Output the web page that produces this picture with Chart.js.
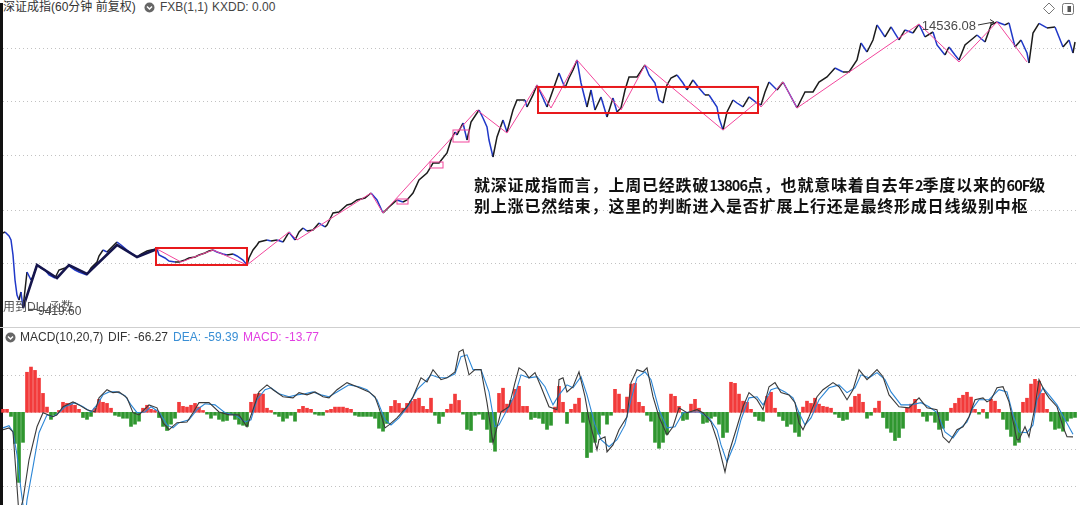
<!DOCTYPE html>
<html>
<head>
<meta charset="utf-8">
<title>深证成指 60分钟</title>
<script src="https://cdn.jsdelivr.net/npm/chart.js@4.4.0/dist/chart.umd.min.js"></script>
<style>
  body { margin: 0; background: #fff; }
  #wrap { position: relative; width: 1080px; height: 505px; overflow: hidden; background: #fff;
          font-family: "Liberation Sans", "Noto Sans CJK SC", sans-serif; font-size: 12px; color: #333; }
  .abs { position: absolute; white-space: nowrap; line-height: 15px; }
  canvas { position: absolute; left: 0; }
  #note { position: absolute; left: 474px; top: 174px; font-family: "Noto Sans CJK SC", sans-serif;
          font-weight: bold; font-size: 16px; line-height: 20px; letter-spacing: 0.8px; color: #111; white-space: nowrap; }
  #note .num { font-size: 14.5px; letter-spacing: -1px; }
</style>
</head>
<body>
<div id="wrap">
  <div class="abs" style="left:0;top:3px;width:3px;height:502px;background:#111;"></div>

  <!-- top header -->
  <div class="abs" style="left:3px;top:0;">深证成指(60分钟 前复权)</div>
  <svg class="abs" style="left:144px;top:2px;" width="11" height="11" viewBox="0 0 11 11">
    <circle cx="5.5" cy="5.5" r="5" fill="#666"/>
    <polyline points="3,4.5 5.5,7 8,4.5" fill="none" stroke="#fff" stroke-width="1.5"/>
  </svg>
  <div class="abs" style="left:160px;top:0;color:#444;">FXB(1,1)</div>
  <div class="abs" style="left:212px;top:0;color:#444;">KXDD: 0.00</div>
  <svg class="abs" style="left:1042px;top:2px;" width="34" height="14" viewBox="0 0 34 14">
    <polygon points="7,1 12.5,6.5 7,12 1.5,6.5" fill="none" stroke="#777" stroke-width="1"/>
    <rect x="20.5" y="1.5" width="11" height="11" rx="2" fill="none" stroke="#777" stroke-width="1"/>
    <rect x="25.5" y="4" width="3.5" height="6" fill="#555"/>
  </svg>

  <canvas id="priceCanvas" width="1080" height="313" style="top:14px;"></canvas>
  <div class="abs" style="left:3px;top:300px;color:#555;">用到DLL函数</div>

  <div id="note">就深证成指而言，上周已经跌破<span class="num">13806</span>点，也就意味着自去年<span class="num">2</span>季度以来的<span class="num">60F</span>级<br>别上涨已然结束，这里的判断进入是否扩展上行还是最终形成日线级别中枢</div>

  <div class="abs" style="left:0;top:327px;width:1080px;height:1px;background:#cfcfcf;"></div>

  <!-- MACD header -->
  <svg class="abs" style="left:5px;top:332px;" width="11" height="11" viewBox="0 0 11 11">
    <circle cx="5.5" cy="5.5" r="5" fill="#666"/>
    <polyline points="3,4.5 5.5,7 8,4.5" fill="none" stroke="#fff" stroke-width="1.5"/>
  </svg>
  <canvas id="macdCanvas" width="1080" height="165" style="top:340px;"></canvas>
  <div class="abs" style="left:20px;top:330px;">MACD(10,20,7)</div>
  <div class="abs" style="left:108px;top:330px;">DIF: -66.27</div>
  <div class="abs" style="left:173px;top:330px;color:#3a8fd5;">DEA: -59.39</div>
  <div class="abs" style="left:243px;top:330px;color:#e23fe2;">MACD: -13.77</div>
</div>

<script>
// ---- price panel data (bar number, index value) ----
let priceBar = [0,1,3,4,5,6,7,8,9,10,11,12,14,15,17,19,21,23,26,28,31,33,36,38,42,44,47,48,50,52,
  55,57,59,62,64,67,69,72,74,77,78,81,83,86,88,91,93,96,98,101,103,105,107,110,112,115,117,120,122,123,
  125,127,128,132,134,137,140,143,146,148,150,152,155,158,161,162,165,168,172,174,177,181,184,187,190,191,193,197,200,202,
  205,208,212,215,218,222,224,226,227,230,232,234,237,238,240,242,243,245,247,250,252,255,257,261,262,265,267,270,272,275,
  278,281,283,285,287,289,292,294,296,299,302,305,307,309,311,313,317,321,323,326,328,330,332,334,337,340,342,345,348,351,
  353,357,358,360,362,365,367,370,373,377,379,381,383,387,390,393,397,401,405,408,412,416,420,423,427,429,432,435,437,441,
  444,448,451,455,458,461,465,467,471,473,476,478,481,484,487,491,494,497,501,503,506,509,512,513,515,518,522,526,530,533,
  535,536];
let priceClose = [10759,10777,10706,10634,10366,9918,9650,9560,9703,9419.6,9739,10061,9918,9972,10187,10133,10097,10008,9954,10097,
  10133,10169,10097,10061,10008,10133,10240,10348,10455,10419,10527,10598,10545,10455,10401,10330,10383,10437,10455,10473,
  10366,10312,10258,10240,10240,10276,10312,10330,10366,10401,10437,10455,10419,10383,10366,10383,10348,10276,10187,10312,
  10455,10545,10598,10634,10616,10634,10598,10777,10634,10777,10849,10795,10813,10938,10867,10903,11117,11135,11261,11278,
  11350,11386,11475,11350,11117,11153,11225,11350,11314,11350,11475,11708,11833,12012,12012,12191,12424,12567,12514,12728,
  12424,12746,12907,12961,12818,12657,12424,12120,12478,12782,12567,12961,13140,13140,13015,13230,13409,13176,13015,13319,
  13623,13355,13534,13677,13856,13444,13015,13319,12961,13194,12836,13176,12925,12997,13319,13552,13552,13767,13588,13444,
  13140,13086,13409,13534,13588,13444,13319,13498,13355,13230,13230,13015,12818,12603,12925,13140,13086,13015,13194,13086,
  13051,13283,13462,13319,13462,13265,12997,13283,13283,13462,13552,13713,13641,13641,13856,14160,13999,14214,14483,14268,
  14447,14214,14393,14339,14498,14268,14357,14125,13946,14089,13946,13856,14125,14214,14304,14178,14483,14536.08,14483,14520,
  14089,14214,13981,13802,14339,14510,14429,14447,14089,14214,13981,14178];

// thick pen line on the left
let penBar = [10,17,27,33,42,57,67,77];
let penVal = [9419.6,10187,9954,10187,10025,10545,10330,10473];

// pink zigzag line
let zigBar = [77,89,105,122,143,147,184,190,237,252,267,274,287,309,321,360,377,379,390,397,458,478,497,512];
let zigVal = [10473,10240,10455,10187,10777,10634,11475,11117,12961,12549,13409,12997,13856,12961,13767,12603,13104,13015,13462,12997,14498,13820,14536.08,13820];

// boxes: [first bar, last bar, top value, bottom value]
let redBoxes = [[76.5,122,10491,10187],[267.5,377.5,13373,12907]];
let pinkBoxes = [[197,202.5,11368,11278],[213.5,220,12030,11923],[225,233,12603,12388]];

let priceGrid = [14071,13122,12156,11171,10222];

// ---- MACD panel data ----
let difBar = [0,3,5,7,8,10,13,17,20,25,27,30,35,38,42,46,48,52,55,58,62,65,68,73,77,80,83,87,92,95,
  98,103,108,113,118,122,125,128,132,135,140,145,148,152,156,160,163,167,172,177,183,186,188,191,193,197,202,205,209,212,
  215,219,222,226,228,230,233,236,239,242,245,249,253,256,258,261,263,266,269,273,277,278,280,282,285,288,291,293,297,298,
  301,302,305,308,312,314,317,320,322,325,328,332,335,338,342,347,350,354,357,361,363,367,370,373,377,380,383,386,389,393,
  396,398,400,403,407,410,415,418,422,425,428,432,437,440,443,448,453,458,462,467,470,473,477,480,483,486,490,492,494,497,
  500,503,507,508,511,513,516,518,521,523,527,530,532,535];
let difVal = [-47,-42,-53,-201,-277,-236,-128,-39,-1,-12,-7,15,28,20,7,1,39,61,53,55,39,-1,-7,20,12,-28,-47,-28,-26,-1,
  26,26,1,-7,-7,-39,7,55,74,61,42,39,53,47,55,42,39,61,80,69,55,42,12,-42,-34,-15,15,42,93,82,
  115,88,93,109,163,169,101,115,115,26,-82,1,15,80,120,109,93,107,69,15,7,88,93,55,69,109,42,-20,-101,-74,
  -66,-107,-88,-47,-12,80,115,109,120,42,-12,-61,-39,12,-1,7,-1,-26,-74,-161,-109,-39,15,53,34,7,69,80,53,47,
  26,-28,-47,-12,42,61,80,69,34,61,115,88,115,96,47,15,12,39,12,7,-66,-82,-47,-39,-12,34,39,28,34,66,
  69,28,-74,-74,-39,-66,15,88,55,39,15,-39,-66,-66.27];

let deaBar = [0,3,5,7,9,11,12,15,18,22,25,28,31,36,40,44,47,50,53,57,61,64,67,71,74,78,82,85,88,93,
  97,101,106,111,116,121,124,127,131,134,138,143,147,151,155,159,163,167,173,178,182,187,191,194,198,203,207,211,214,218,
  222,226,229,232,235,239,243,246,248,252,256,259,263,267,271,275,278,282,285,289,292,296,299,303,307,311,314,317,321,324,
  328,332,336,340,344,348,353,357,359,362,366,369,373,377,380,384,387,391,395,398,401,404,408,413,418,422,426,429,433,437,
  441,444,449,454,459,463,467,471,475,478,482,485,488,493,498,502,505,508,512,515,517,520,523,527,531,535];
let deaVal = [-42,-36,-53,-115,-209,-290,-236,-147,-55,-7,-12,-1,15,26,15,1,20,47,55,55,45,20,-1,1,15,1,-34,-42,-28,-20,
  7,23,20,-1,-7,-26,-20,34,61,66,50,42,47,50,55,47,42,55,74,69,61,34,-20,-34,-15,20,61,82,101,93,
  93,104,150,155,115,115,55,-39,-34,7,47,101,93,96,69,20,47,74,66,96,47,-34,-74,-93,-74,-34,34,93,109,88,
  7,-42,-39,-1,1,1,-15,-47,-88,-134,-82,-20,39,42,20,61,66,55,39,-1,-34,-15,34,66,74,53,66,101,93,107,
  88,55,20,20,26,15,-1,-53,-69,-47,-26,12,34,34,61,55,-7,-53,-55,-34,34,66,47,20,-20,-59.39];

// histogram, one bar every 2 bar numbers
let histVal = [8,8,-11,-84,-189,-81,108,122,113,92,
  51,14,-19,-8,5,27,24,22,19,8,
  -14,-19,-11,11,35,27,24,11,-8,-11,
  -16,-16,-38,-32,-24,11,19,8,5,-14,
  -38,-49,-32,-16,27,16,14,19,24,14,
  5,-5,-16,-8,-19,-24,-22,-5,-19,-32,
  -35,-38,27,49,51,49,11,5,-5,-11,
  -24,-16,-8,-24,8,16,11,8,-5,-8,
  -8,5,8,14,14,14,11,8,-8,-11,
  -11,-11,-11,-16,-43,-51,-30,16,32,24,
  11,24,30,35,38,16,8,38,-8,-30,
  -11,8,22,49,32,-5,-46,-49,-8,-5,
  -19,-46,-81,-105,51,65,22,32,62,70,
  16,16,-19,-14,-16,-30,-46,-35,14,70,
  27,-30,8,22,38,-27,-122,-108,-81,-59,
  -8,-32,-8,62,49,8,41,76,78,27,
  16,-8,-24,-81,-97,-81,-59,49,43,16,
  -22,-19,22,35,11,-30,-27,-16,-11,-32,
  -68,-54,81,78,49,30,27,8,-11,-22,
  -24,43,54,11,-11,-22,-38,-32,-54,-65,
  14,30,24,38,22,16,14,11,-5,-14,
  -22,-19,14,43,49,27,-16,-8,11,30,
  -14,-43,-54,-76,-68,-43,11,22,35,8,
  -11,-24,-8,-27,-46,-43,-22,11,24,38,
  46,54,41,8,-5,8,-16,35,30,8,
  -19,-46,-65,-89,-81,27,38,76,89,84,
  51,8,-24,-46,-43,-51,-24,-16,-13.77];

let macdGrid = [100, 0, -100, -200];

// pair up bar numbers and values for the linear x scale
function zip(xs, ys) {
  return xs.map(function (x, i) { return { x: x, y: ys[i] }; });
}

// dotted horizontal grid lines at the given values
let gridLines = {
  id: "gridLines",
  beforeDatasetsDraw: function (chart, args, opts) {
    let ctx = chart.ctx;
    let area = chart.chartArea;
    ctx.save();
    ctx.strokeStyle = "#c2c2c2";
    ctx.lineWidth = 1;
    ctx.setLineDash([1, 3]);
    opts.values.forEach(function (v) {
      let y = Math.round(chart.scales.y.getPixelForValue(v)) + 0.5;
      ctx.beginPath();
      ctx.moveTo(area.left + 3, y);
      ctx.lineTo(area.right - 2, y);
      ctx.stroke();
    });
    ctx.restore();
  },
};

// boxes plus high / low labels on the price panel
let priceMarks = {
  id: "priceMarks",
  afterDatasetsDraw: function (chart) {
    let ctx = chart.ctx;
    let xs = chart.scales.x;
    let ys = chart.scales.y;
    ctx.save();

    function box(b, color, width) {
      let x0 = xs.getPixelForValue(b[0]);
      let x1 = xs.getPixelForValue(b[1]);
      let y0 = ys.getPixelForValue(b[2]);
      let y1 = ys.getPixelForValue(b[3]);
      ctx.strokeStyle = color;
      ctx.lineWidth = width;
      ctx.strokeRect(x0, y0, x1 - x0, y1 - y0);
    }
    pinkBoxes.forEach(function (b) { box(b, "#f2469c", 1); });
    redBoxes.forEach(function (b) { box(b, "#e8191c", 2); });

    // highest point
    let hi = priceClose.indexOf(Math.max.apply(null, priceClose));
    let hx = xs.getPixelForValue(priceBar[hi]);
    let hy = ys.getPixelForValue(priceClose[hi]);
    ctx.fillStyle = "#4a4a4a";
    ctx.strokeStyle = "#333";
    ctx.lineWidth = 1;
    ctx.font = '13px "Liberation Sans", Arial, sans-serif';
    ctx.textAlign = "right";
    ctx.textBaseline = "middle";
    ctx.fillText(priceClose[hi].toFixed(2), hx - 21, hy + 4);
    ctx.beginPath();
    ctx.moveTo(hx - 19, hy + 3);
    ctx.lineTo(hx - 3, hy);
    ctx.moveTo(hx - 7, hy - 2.5);
    ctx.lineTo(hx - 3, hy);
    ctx.lineTo(hx - 7, hy + 2);
    ctx.stroke();

    // lowest point
    let lo = priceClose.indexOf(Math.min.apply(null, priceClose));
    let lx = xs.getPixelForValue(priceBar[lo]);
    let ly = ys.getPixelForValue(priceClose[lo]);
    ctx.beginPath();
    ctx.moveTo(lx + 5, ly + 1.5);
    ctx.lineTo(lx + 14, ly + 1.5);
    ctx.stroke();
    ctx.textAlign = "left";
    ctx.font = '12px "Liberation Sans", Arial, sans-serif';
    ctx.fillText(priceClose[lo].toFixed(2), lx + 15, ly + 4);
    ctx.restore();
  },
};

function panelOptions(yMin, yMax, grid) {
  return {
    responsive: false,
    animation: false,
    devicePixelRatio: 1,
    events: [],
    layout: { padding: 0 },
    elements: { point: { radius: 0 }, line: { tension: 0 } },
    plugins: {
      legend: { display: false },
      tooltip: { enabled: false },
      gridLines: { values: grid },
    },
    scales: {
      // offset off so bars and lines share the same bar positions
      x: { type: "linear", min: -1.5, max: 538.5, offset: false, display: false },
      y: { type: "linear", min: yMin, max: yMax, display: false },
    },
  };
}

// price panel
let priceChart = new Chart(document.querySelector("#priceCanvas"), {
  type: "line",
  data: {
    datasets: [
      { data: zip(penBar, penVal), borderColor: "#15154c", borderWidth: 2.6 },
      { data: zip(zigBar, zigVal), borderColor: "#f2469c", borderWidth: 1 },
      {
        data: zip(priceBar, priceClose),
        borderColor: "#1c1c1c",
        borderWidth: 1.5,
        segment: {
          borderColor: function (c) {
            return c.p1.parsed.y < c.p0.parsed.y ? "#2038c8" : "#1c1c1c";
          },
        },
      },
    ],
  },
  options: panelOptions(9077, 14679, priceGrid),
  plugins: [gridLines, priceMarks],
});

// MACD panel
let histData = histVal.map(function (v, i) { return { x: i * 2, y: v }; });
let histColors = histVal.map(function (v) { return v >= 0 ? "#f23a3a" : "#2f962f"; });

let macdChart = new Chart(document.querySelector("#macdCanvas"), {
  type: "bar",
  data: {
    datasets: [
      { type: "line", data: zip(difBar, difVal), borderColor: "#3a3a3a", borderWidth: 1.1 },
      { type: "line", data: zip(deaBar, deaVal), borderColor: "#2b86d6", borderWidth: 1.1 },
      { type: "bar", data: histData, backgroundColor: histColors, borderWidth: 0, barThickness: 3 },
    ],
  },
  options: panelOptions(-250, 195, macdGrid),
  plugins: [gridLines],
});
</script>
</body>
</html>
